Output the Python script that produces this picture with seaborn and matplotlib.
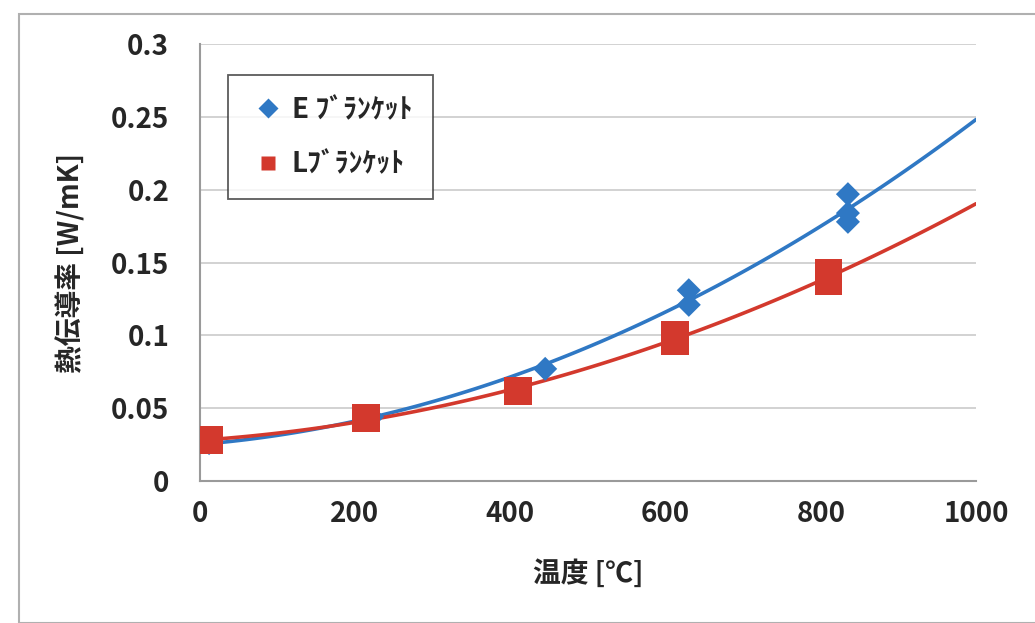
import numpy as np
import pandas as pd
import matplotlib.pyplot as plt
import seaborn as sns
from matplotlib.patches import Rectangle

# data
e_temp = [12, 222, 445, 630, 630, 835, 835, 835]
e_cond = [0.026, 0.044, 0.077, 0.131, 0.121, 0.197, 0.184, 0.178]
l_temp = [12, 214, 410, 612, 612, 810, 810]
l_cond = [0.028, 0.043, 0.062, 0.096, 0.100, 0.143, 0.137]
series_names = ['E ﾌﾞﾗﾝｹｯﾄ', 'Lﾌﾞﾗﾝｹｯﾄ']
x_ticks = [0, 200, 400, 600, 800, 1000]
y_ticks = [0, 0.05, 0.1, 0.15, 0.2, 0.25, 0.3]
y_tick_labels = ['0', '0.05', '0.1', '0.15', '0.2', '0.25', '0.3']

blue = '#2F78C4'
red = '#D3392D'

df = pd.concat([
    pd.DataFrame({'temp': e_temp, 'cond': e_cond, 'series': series_names[0]}),
    pd.DataFrame({'temp': l_temp, 'cond': l_cond, 'series': series_names[1]}),
], ignore_index=True)

sns.set_style('white')
plt.rcParams['font.family'] = ['Noto Sans CJK JP', 'DejaVu Sans']

fig = plt.figure(figsize=(10.35, 6.23), dpi=100)
ax = fig.add_axes([0.193, 0.228, 0.75, 0.701])
ax.set_xlim(0, 1000)
ax.set_ylim(0, 0.3)

# trend lines (2nd order polynomial, like Excel)
for name, col in zip(series_names, [blue, red]):
    sub = df[df['series'] == name]
    sns.regplot(data=sub, x='temp', y='cond', order=2, ci=None, scatter=False,
                truncate=False, ax=ax, line_kws={'color': col, 'lw': 2.6})

sns.scatterplot(data=df, x='temp', y='cond', hue='series', style='series',
                markers={series_names[0]: 'D', series_names[1]: 's'},
                palette={series_names[0]: blue, series_names[1]: red},
                s=150, edgecolor='none', ax=ax, zorder=3)
# squares are bigger than the diamonds
coll = ax.collections[-1]
sizes = np.where(df['series'] == series_names[1], 400, 150)
coll.set_sizes(sizes)

ax.set_xlim(0, 1000)
ax.set_ylim(0, 0.3)
ax.set_xticks(x_ticks)
ax.set_yticks(y_ticks)
ax.set_yticklabels(y_tick_labels)
ax.tick_params(axis='x', labelsize=20, length=0, pad=14)
ax.tick_params(axis='y', labelsize=20, length=0, pad=22)
for lab in ax.get_xticklabels() + ax.get_yticklabels():
    lab.set_fontweight('bold')
ax.yaxis.grid(True, color='#CFCFCF', lw=1.3)
ax.xaxis.grid(False)
for side in ['top', 'right']:
    ax.spines[side].set_visible(False)
ax.spines['left'].set_color('#9A9A9A')
ax.spines['bottom'].set_color('#9A9A9A')
ax.spines['left'].set_linewidth(1.5)
ax.spines['bottom'].set_linewidth(1.5)

ax.set_xlabel('温度 [℃]', fontsize=20, fontweight='bold', labelpad=22)
ax.set_ylabel('熱伝導率 [W/mK]', fontsize=20, fontweight='bold', labelpad=18)

handles, labels = ax.get_legend_handles_labels()
for h in handles:
    h.set_markersize(10)
leg = ax.legend(handles, labels, loc='upper left', bbox_to_anchor=(0.036, 0.929),
                fontsize=20, frameon=True, fancybox=False, edgecolor='#333333',
                borderpad=0.75, labelspacing=0.95, handletextpad=0.15,
                handlelength=1.4, borderaxespad=0)
leg.get_frame().set_linewidth(1.3)
for t in leg.get_texts():
    t.set_fontweight('bold')

# outer chart border
fig.patches.append(Rectangle((0.018, 0.0), 0.99, 0.978, transform=fig.transFigure,
                             fill=False, edgecolor='#B0B0B0', lw=1.5))

fig.savefig('out.png', dpi=100)
